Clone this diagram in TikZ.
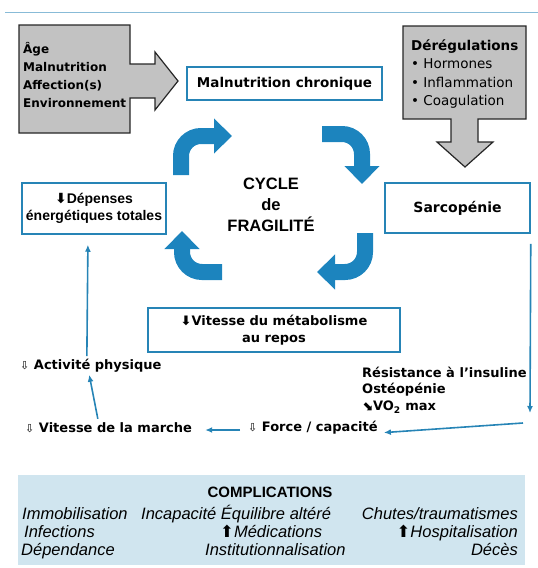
\documentclass[tikz,border=0pt]{standalone}
\usepackage{fontspec}
\usepackage{xcolor}
\usetikzlibrary{arrows.meta}
\newfontfamily\dejavu{DejaVu Sans}
\newfontfamily\arialf{Liberation Sans}
\definecolor{cycblue}{RGB}{28,132,190}
\definecolor{linkblue}{RGB}{38,132,182}
\definecolor{boxgray}{RGB}{194,194,194}
\definecolor{compbg}{RGB}{208,229,239}

\begin{document}
\begin{tikzpicture}[x=1pt,y=-1pt]
  \tikzset{box/.style = {draw=linkblue, line width=1.5pt, inner sep=0pt, align=center,
                         font=\dejavu\bfseries\fontsize{13.5}{16.5}\selectfont}}
  \tikzset{txt/.style = {inner sep=0pt, align=left, font=\dejavu\bfseries\fontsize{13}{16.5}\selectfont}}
  \tikzset{compl/.style = {inner sep=0pt, font=\arialf\itshape\fontsize{16.5}{18}\selectfont}}
  \tikzset{link/.style = {draw=linkblue, line width=1.6pt, -{Latex[length=7pt,width=6pt]}}}
  \tikzset{cyc/.style = {draw=cycblue, line width=16pt, rounded corners=20pt,
                         -{Triangle[length=18pt,width=34pt]}}}
  \tikzset{grayarrow/.style = {fill=boxgray, draw=black!85, line width=1.2pt}}

  \useasboundingbox (0,0) rectangle (538,568);
  \draw[linkblue!55, line width=1pt] (5,12) -- (538,12);

  % gray arrows
  \draw[grayarrow] (19,25) -- (130,25) -- (130,64) -- (155,64) -- (155,52) -- (178,81)
    -- (155,110) -- (155,98) -- (130,98) -- (130,133) -- (19,133) -- cycle;
  \draw[grayarrow] (403,26) -- (526,26) -- (526,119) -- (478,119) -- (478,142) -- (493,142)
    -- (465,167) -- (437,142) -- (451,142) -- (451,119) -- (403,119) -- cycle;
  \node[txt, anchor=west, font=\dejavu\bfseries\fontsize{12}{18}\selectfont] (causes) at (23,75)
    {Âge\\Malnutrition\\Affection(s)\\Environnement};
  \node[txt, anchor=west, font=\dejavu\fontsize{13.5}{18.5}\selectfont] (dereg) at (411,74)
    {{\bfseries Dérégulations}\\• Hormones\\• Inflammation\\• Coagulation};

  % boxes
  \node[box, minimum width=195, minimum height=33] (malnu) at (284.5,83.5) {Malnutrition chronique};
  \node[box, minimum width=145, minimum height=50, font=\dejavu\bfseries\fontsize{14}{16}\selectfont]
    (sarco) at (457.5,208) {Sarcopénie};
  \node[box, minimum width=144, minimum height=51, font=\arialf\bfseries\fontsize{14}{17}\selectfont]
    (depenses) at (94,208.5) {{\dejavu ⬇}Dépenses\\énergétiques totales};
  \node[box, minimum width=252, minimum height=44, font=\dejavu\bfseries\fontsize{13}{17}\selectfont]
    (metab) at (274,330) {⬇Vitesse du métabolisme\\au repos};
  \node[inner sep=0pt, align=center, font=\arialf\bfseries\fontsize{16.5}{21}\selectfont]
    (cycle) at (271,205) {CYCLE\\de\\FRAGILITÉ};

  % cycle arrows
  \draw[cyc] (181,175) |- (232,136);
  \draw[cyc] (322,134) -| (362,184);
  \draw[cyc] (365,233) |- (317,272);
  \draw[cyc] (222,272) -| (182,231);

  % consequences
  \node[txt, anchor=west] (activite) at (20,366) {{\mdseries\fontsize{11}{11}\selectfont ⇩} Activité physique};
  \node[txt, anchor=west] (marche) at (25,428) {{\mdseries\fontsize{11}{11}\selectfont ⇩} Vitesse de la marche};
  \node[txt, anchor=west] (force) at (248,428) {{\mdseries\fontsize{11}{11}\selectfont ⇩} Force / capacité};
  \node[txt, anchor=west] (resist) at (362,390)
    {Résistance à l’insuline\\Ostéopénie\\⬊VO\textsubscript{2} max};

  \coordinate (sdown) at (530,413);
  \coordinate (fright) at (523,423);
  \draw[link] ([yshift=-10pt]sarco.south east) -- (sdown);
  \draw[link, shorten >=6pt] (fright) -- ([yshift=-5pt]force.east);
  \draw[link, shorten <=8pt, shorten >=13pt] ([yshift=-2pt]force.west) -- ([yshift=-2pt]marche.east);
  \draw[link, shorten <=4pt, shorten >=2pt] ([xshift=-10pt]marche.north) -- ([xshift=-2pt]activite.south);
  \draw[link, shorten <=3pt, shorten >=10pt] ([xshift=-4pt]activite.north) -- ([xshift=-6pt]depenses.south);

  % complications
  \node[fill=compbg, minimum width=507, minimum height=90, inner sep=0pt] (comp) at (271.5,520) {};
  \node[inner sep=0pt, font=\arialf\bfseries\fontsize{15}{18}\selectfont] (ctitle) at (270,492) {COMPLICATIONS};
  \node[compl, anchor=base west] (c1) at (22,519) {Immobilisation};
  \node[compl, anchor=base west] (c2) at (24,537) {Infections};
  \node[compl, anchor=base west] (c3) at (21,555) {Dépendance};
  \node[compl, anchor=base west] (c4) at (141,519) {Incapacité Équilibre altéré};
  \node[compl, anchor=base west] (c6) at (220,537) {{\dejavu\upshape ⬆}Médications};
  \node[compl, anchor=base west] (c7) at (205,555) {Institutionnalisation};
  \node[compl, anchor=base east] (c8) at (518,519) {Chutes/traumatismes};
  \node[compl, anchor=base east] (c9) at (518,537) {{\dejavu\upshape ⬆}Hospitalisation};
  \node[compl, anchor=base east] (c10) at (518,555) {Décès};
\end{tikzpicture}
\end{document}
